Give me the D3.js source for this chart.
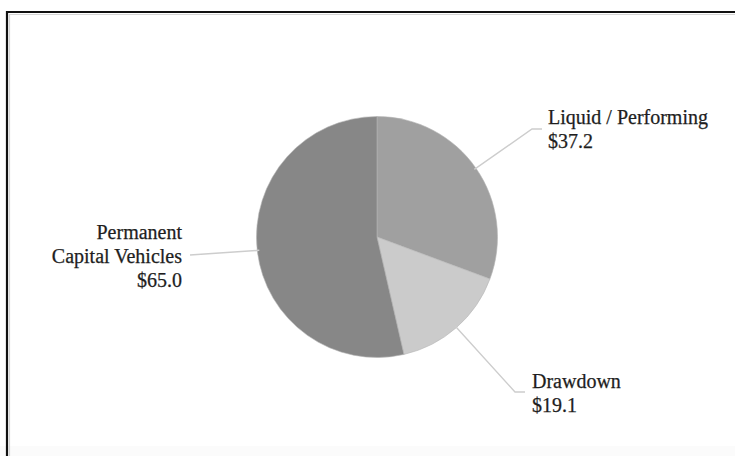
<!DOCTYPE html>
<html>
<head>
<meta charset="utf-8">
<title>Assets by type</title>
<script src="https://d3js.org/d3.v7.min.js"></script>
<style>
  html, body { margin: 0; padding: 0; background: #fff; }
  svg { display: block; }
</style>
</head>
<body>
<svg id="chart" width="735" height="456"></svg>
<script>
  // values in $bn
  const categories = ["Liquid / Performing", "Drawdown", "Permanent Capital Vehicles"];
  const values = [37.2, 19.1, 65.0];
  const labelLines = [["Liquid / Performing"], ["Drawdown"], ["Permanent", "Capital Vehicles"]];
  const fills = ["#a0a0a0", "#cbcbcb", "#878787"];

  const width = 735, height = 456;
  const cx = 377, cy = 237, radius = 120.5;

  // where each label sits (elbow of the leader + text anchor)
  const labelLayout = [
    { elbow: [532, 129], end: [542, 129], tx: 548, ty: 124, anchor: "start" },
    { elbow: [515, 392], end: [525, 392], tx: 532, ty: 388, anchor: "start" },
    { elbow: null, end: [190, 255], tx: 182, ty: 239, anchor: "end" }
  ];

  const svg = d3.select("#chart");

  // frame: heavy top/left edge as in the scan
  svg.append("rect").attr("x", 0).attr("y", 446).attr("width", width).attr("height", 10)
    .attr("fill", "#fbfbfb");
  svg.append("path").attr("d", `M7,${height}V12H${width}`)
    .attr("fill", "none").attr("stroke", "#111").attr("stroke-width", 2.2);
  svg.append("path").attr("d", `M9.5,${height}V14.5H${width}`)
    .attr("fill", "none").attr("stroke", "#d5d5d5").attr("stroke-width", 1.2);

  const data = categories.map((c, i) => ({ name: c, value: values[i], i }));

  const pie = d3.pie().value(d => d.value).sort(null);
  const arc = d3.arc().innerRadius(0).outerRadius(radius);
  const arcs = pie(data);

  const g = svg.append("g").attr("transform", `translate(${cx},${cy})`);

  // leader lines first so slices cover their start
  arcs.forEach((d, i) => {
    const mid = (d.startAngle + d.endAngle) / 2;
    const p0 = [cx + Math.sin(mid) * (radius - 2), cy - Math.cos(mid) * (radius - 2)];
    const L = labelLayout[i];
    const pts = L.elbow ? [p0, L.elbow, L.end] : [p0, L.end];
    svg.append("path")
      .attr("d", d3.line()(pts))
      .attr("fill", "none")
      .attr("stroke", "#cdcdcd")
      .attr("stroke-width", 1.4);
  });

  g.selectAll("path.slice").data(arcs).enter().append("path")
    .attr("class", "slice")
    .attr("d", arc)
    .attr("fill", d => fills[d.data.i])
    .attr("stroke", "#b5b5b5")
    .attr("stroke-width", 0.6);

  // labels
  arcs.forEach((d, i) => {
    const L = labelLayout[i];
    const lines = labelLines[i].concat(["$" + d3.format(".1f")(d.data.value)]);
    const t = svg.append("text")
      .attr("x", L.tx).attr("y", L.ty)
      .attr("text-anchor", L.anchor)
      .attr("font-family", "'Liberation Serif', 'Times New Roman', serif")
      .attr("font-size", 20)
      .attr("fill", "#1e1e1e")
      .attr("stroke", "#1e1e1e")
      .attr("stroke-width", 0.25);
    lines.forEach((s, k) => {
      t.append("tspan").attr("x", L.tx).attr("dy", k === 0 ? 0 : 24).text(s);
    });
  });
</script>
</body>
</html>
